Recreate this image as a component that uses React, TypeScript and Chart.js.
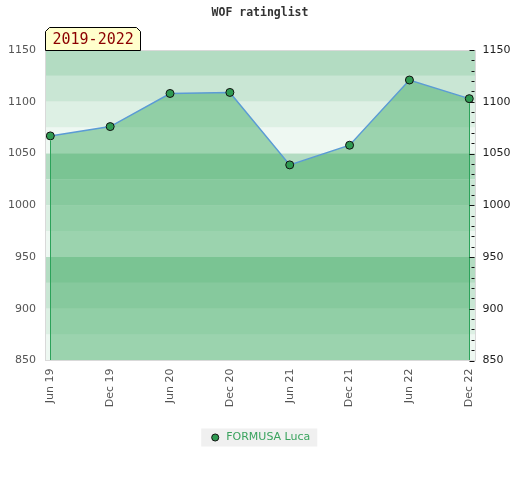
import React, { useEffect, useRef } from 'react';
import { Chart, registerables } from 'chart.js';

Chart.register(...registerables);

// ---- data ----
const chartTitle = 'WOF ratinglist';
const periodLabel = '2019-2022';
const seriesName = 'FORMUSA Luca';
const periods = ['Jun 19', 'Dec 19', 'Jun 20', 'Dec 20', 'Jun 21', 'Dec 21', 'Jun 22', 'Dec 22'];
const ratings = [1067, 1076, 1108, 1109, 1039, 1058, 1121, 1103];
const yMin = 850;
const yMax = 1150;
const yStep = 50;
const bandStep = 25;
const minorStep = 10;

// ---- styles ----
const bandColors = ['#b3dcc2', '#c9e6d4', '#ddf0e4', '#eef8f2'];
const lineColor = '#5b9bd5';
const fillColor = 'rgba(53,167,90,0.45)';
const pointColor = '#2f9a52';
const edgeColor = '#2ca25a';
const legendTextColor = '#3aa35e';

const decorPlugin = {
  id: 'decor',
  beforeDraw(chart: any) {
    const { ctx, chartArea: a, scales } = chart;
    const y = scales.y;
    ctx.save();
    let i = 0;
    for (let v = yMax; v > yMin; v -= bandStep, i++) {
      const t = y.getPixelForValue(v);
      const b = y.getPixelForValue(v - bandStep);
      ctx.fillStyle = bandColors[i % bandColors.length];
      ctx.fillRect(a.left, t, a.right - a.left, b - t);
    }
    const lg = chart.legend;
    if (lg && lg.legendHitBoxes && lg.legendHitBoxes.length) {
      const h = lg.legendHitBoxes[0];
      ctx.fillStyle = '#f0f0f0';
      ctx.fillRect(h.left - 8.5, h.top - 3.5, h.width + 15.5, h.height + 7);
    }
    ctx.restore();
  },
  afterDatasetsDraw(chart: any) {
    const { ctx, chartArea: a, scales } = chart;
    const x = scales.x;
    const y = scales.y;
    ctx.save();
    // vertical edges of the filled area
    ctx.strokeStyle = edgeColor;
    ctx.lineWidth = 1;
    [0, ratings.length - 1].forEach((idx) => {
      const px = Math.round(x.getPixelForValue(idx)) + 0.5;
      ctx.beginPath();
      ctx.moveTo(px, y.getPixelForValue(ratings[idx]) + 4.5);
      ctx.lineTo(px, a.bottom);
      ctx.stroke();
    });
    // frame
    ctx.strokeStyle = '#d9d9d9';
    ctx.strokeRect(Math.round(a.left) + 0.5, Math.round(a.top) + 0.5, Math.round(a.right - a.left) - 1, Math.round(a.bottom - a.top) - 1);
    // minor ticks on right edge
    ctx.strokeStyle = '#111';
    for (let v = yMin; v <= yMax; v += minorStep) {
      const py = Math.round(y.getPixelForValue(v)) + 0.5;
      const len = v % yStep === 0 ? 6 : 4;
      ctx.beginPath();
      ctx.moveTo(a.right - len, py);
      ctx.lineTo(a.right - 1, py);
      ctx.stroke();
    }
    ctx.restore();
  },
  afterDraw(chart: any) {
    const { ctx, chartArea: a } = chart;
    ctx.save();
    const L = Math.round(a.left) + 0.5;
    const R = L + 95;
    const T = 27.5;
    const B = Math.round(a.top) + 0.5;
    const c = 4;
    ctx.beginPath();
    ctx.moveTo(L, B);
    ctx.lineTo(L, T + c);
    ctx.lineTo(L + c, T);
    ctx.lineTo(R - c, T);
    ctx.lineTo(R, T + c);
    ctx.lineTo(R, B);
    ctx.closePath();
    ctx.fillStyle = '#ffffcc';
    ctx.fill();
    ctx.strokeStyle = '#000';
    ctx.lineWidth = 1;
    ctx.stroke();
    ctx.fillStyle = '#8b0000';
    ctx.font = '15px "DejaVu Sans Mono"';
    ctx.textBaseline = 'middle';
    ctx.textAlign = 'left';
    ctx.fillText(periodLabel, L + 7, (T + B) / 2 + 1);
    ctx.restore();
  },
};

export default function App() {
  const ref = useRef<HTMLCanvasElement>(null);

  useEffect(() => {
    document.body.style.margin = '0';
    Chart.defaults.font.family = '"DejaVu Sans"';
    const canvas = ref.current;
    if (!canvas) return;
    const chart = new Chart(canvas, {
      type: 'line',
      data: {
        datasets: [
          {
            label: seriesName,
            data: ratings.map((v, i) => ({ x: i, y: v })),
            borderColor: lineColor,
            borderWidth: 1.5,
            backgroundColor: fillColor,
            fill: 'start',
            tension: 0,
            pointRadius: 4,
            pointBackgroundColor: pointColor,
            pointBorderColor: '#111',
            pointBorderWidth: 1,
          },
        ],
      },
      options: {
        responsive: false,
        animation: false,
        layout: { padding: { bottom: 27 } },
        plugins: {
          title: {
            display: true,
            text: chartTitle,
            color: '#333',
            font: { family: '"DejaVu Sans Mono"', size: 11.5, weight: 'bold' },
            padding: { top: 6.5, bottom: 29.7 },
          },
          legend: {
            position: 'bottom',
            labels: {
              usePointStyle: true,
              boxHeight: 5,
              color: legendTextColor,
              font: { size: 11 },
              padding: 10,
              generateLabels: () => [
                {
                  text: seriesName,
                  fillStyle: pointColor,
                  strokeStyle: '#111',
                  lineWidth: 1,
                  pointStyle: 'circle',
                  datasetIndex: 0,
                  hidden: false,
                  fontColor: legendTextColor,
                },
              ],
            },
          },
          tooltip: { enabled: false },
        },
        scales: {
          x: {
            type: 'linear',
            min: -0.089,
            max: 7.104,
            afterBuildTicks: (s: any) => {
              s.ticks = periods.map((_, i) => ({ value: i }));
            },
            afterFit: (s: any) => {
              s.height = 61.5;
            },
            ticks: {
              callback: (v: any) => periods[v] ?? '',
              minRotation: 90,
              maxRotation: 90,
              autoSkip: false,
              color: '#555',
              font: { size: 11 },
              padding: 8,
            },
            grid: { display: false, drawTicks: false },
            border: { display: false },
          },
          y: {
            position: 'left',
            min: yMin,
            max: yMax,
            afterFit: (s: any) => {
              s.width = 45;
            },
            ticks: { stepSize: yStep, color: '#555', font: { size: 11 }, padding: 9, callback: (v: any) => String(v) },
            grid: { display: false, drawTicks: false },
            border: { display: false },
          },
          y2: {
            position: 'right',
            min: yMin,
            max: yMax,
            afterFit: (s: any) => {
              s.width = 44.5;
            },
            ticks: { stepSize: yStep, color: '#222', font: { size: 11 }, padding: 7, callback: (v: any) => String(v) },
            grid: { display: false, drawTicks: false },
            border: { display: false },
          },
        },
      } as any,
      plugins: [decorPlugin],
    });
    return () => chart.destroy();
  }, []);

  return (
    <div style={{ width: 520, height: 480 }}>
      <canvas ref={ref} width={520} height={480} />
    </div>
  );
}
